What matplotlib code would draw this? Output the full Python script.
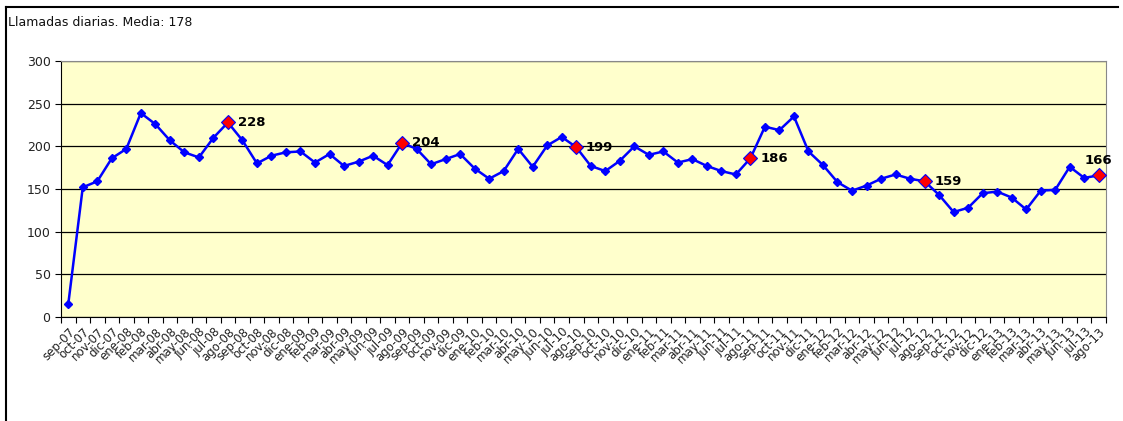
import matplotlib.pyplot as plt
from matplotlib.lines import Line2D

meses = ["ene", "feb", "mar", "abr", "may", "jun", "jul", "ago", "sep", "oct", "nov", "dic"]
labels = []
for i in range(72):
    m = (8 + i) % 12
    year = 7 + (8 + i) // 12
    labels.append("%s-%02d" % (meses[m], year))

llamadas = [15, 152, 159, 186, 197, 239, 226, 207, 193, 187, 210, 228,
            207, 180, 189, 193, 194, 181, 191, 177, 182, 189, 178, 204,
            197, 179, 185, 191, 174, 162, 171, 197, 176, 201, 211, 199,
            177, 171, 183, 200, 190, 194, 181, 185, 177, 171, 167, 186,
            223, 219, 235, 194, 178, 158, 148, 154, 162, 167, 162, 159,
            143, 123, 128, 145, 147, 140, 126, 148, 149, 176, 163, 166]

# agosto de cada año, destacado en rojo
destacados = [11, 23, 35, 47, 59, 71]

fig = plt.figure(figsize=(11.23, 4.21), dpi=100)
ax = fig.add_axes([61 / 1123, 1 - 317 / 421, 1045 / 1123, 256 / 421])
ax.set_facecolor("#FFFFCC")

x = list(range(len(llamadas)))
ax.plot(x, llamadas, color="#0000FF", lw=1.8, marker="D", ms=4, zorder=3)
ax.plot([x[i] for i in destacados], [llamadas[i] for i in destacados],
        ls="none", marker="D", ms=7, mfc="#FF0000", mec="#0000FF", mew=0.8, zorder=4)

for i in destacados:
    if i == len(llamadas) - 1:
        ax.annotate(str(llamadas[i]), (x[i], llamadas[i]), xytext=(0, 6),
                    textcoords="offset points", ha="center", va="bottom",
                    fontsize=9.5, fontweight="bold", zorder=5)
    else:
        ax.annotate(str(llamadas[i]), (x[i], llamadas[i]), xytext=(7, 0),
                    textcoords="offset points", ha="left", va="center",
                    fontsize=9.5, fontweight="bold", zorder=5)

ax.set_xlim(-0.5, len(llamadas) - 0.5)
ax.set_ylim(0, 300)
ax.set_yticks(range(0, 301, 50))
ax.yaxis.grid(True, color="black", lw=0.9)
ax.set_axisbelow(True)

ax.set_xticks([i - 0.5 for i in range(len(llamadas) + 1)], minor=False)
ax.set_xticklabels([])
ax.set_xticks(x, minor=True)
ax.set_xticklabels(labels, minor=True, rotation=45, ha="right", va="top",
                   rotation_mode="anchor", fontsize=8.5, color="#222222")
ax.tick_params(axis="x", which="major", length=4, direction="out", color="black")
ax.tick_params(axis="x", which="minor", length=0, pad=6)
ax.tick_params(axis="y", length=4, labelsize=9, labelcolor="#222222")

ax.spines["left"].set_color("black")
ax.spines["bottom"].set_color("black")
ax.spines["top"].set_color("#888888")
ax.spines["right"].set_color("#888888")

fig.text(8 / 1123, 1 - 22 / 421, "Llamadas diarias. Media: 178", fontsize=9,
         ha="left", va="center", color="#111111")

fig.add_artist(Line2D([6 / 1123, 6 / 1123], [0, 1 - 7 / 421], color="black", lw=1.5,
                      transform=fig.transFigure))
fig.add_artist(Line2D([6 / 1123, 1118 / 1123], [1 - 7 / 421, 1 - 7 / 421], color="black",
                      lw=1.5, transform=fig.transFigure))

fig.savefig("out.png", dpi=100)
